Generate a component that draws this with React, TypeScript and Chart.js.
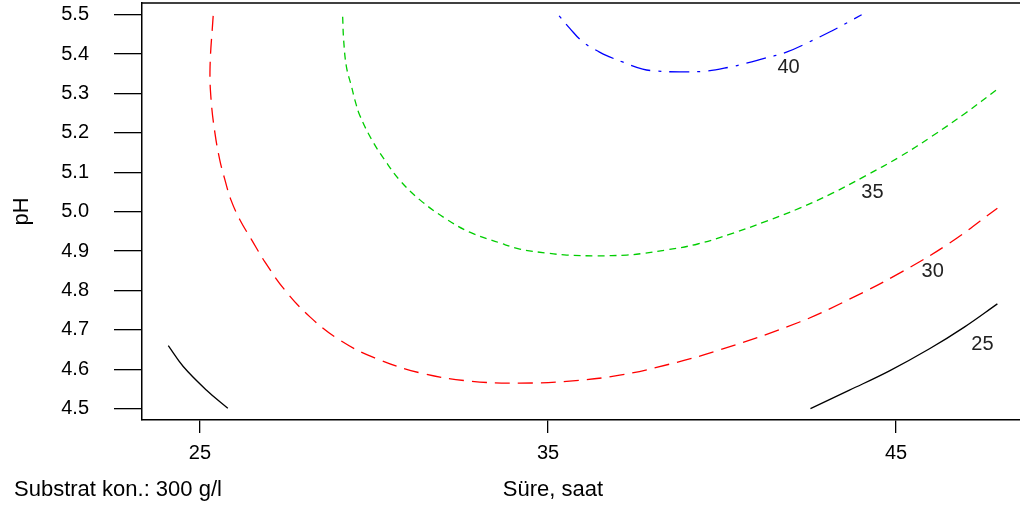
import React, { useEffect, useRef } from 'react';
import { Chart, registerables } from 'chart.js';

Chart.register(...registerables);

const FONT = "'Liberation Sans', Arial, sans-serif";

// Axis ticks
const xTicks = [25, 35, 45];
const yTicks = [4.5, 4.6, 4.7, 4.8, 4.9, 5.0, 5.1, 5.2, 5.3, 5.4, 5.5];
const xMin = 23.335;
const xMax = 48.56;
const yMin = 4.4713;
const yMax = 5.5297;

// Contour level 25 (two pieces)
const c25aHours = [24.09, 24.52, 25.19, 25.8];
const c25aPH = [4.66, 4.607, 4.547, 4.501];
const c25bHours = [42.54, 43.66, 44.81, 45.96, 46.96, 47.91];
const c25bPH = [4.5, 4.547, 4.596, 4.652, 4.707, 4.766];

// Contour level 30
const c30Hours = [25.38, 25.29, 25.32, 25.43, 25.57, 25.72, 25.89, 26.15, 26.49, 26.87, 27.44, 28.16, 29.02, 30.02, 31.32, 32.75, 34.19, 35.62, 37.06, 38.49, 39.93, 42.23, 43.66, 45.1, 46.53, 47.91];
const c30PH = [5.497, 5.367, 5.284, 5.2, 5.131, 5.08, 5.03, 4.979, 4.928, 4.872, 4.801, 4.733, 4.674, 4.629, 4.591, 4.57, 4.565, 4.57, 4.585, 4.613, 4.649, 4.72, 4.778, 4.844, 4.92, 5.009];

// Contour level 35
const c35Hours = [29.1, 29.13, 29.21, 29.36, 29.45, 29.59, 29.94, 30.31, 30.74, 31.32, 32.03, 32.75, 33.61, 34.19, 34.96, 35.54, 36.4, 37.26, 37.72, 38.41, 39.3, 40.3, 41.28, 42.23, 43.17, 44.12, 45.1, 46.04, 46.99, 47.91];
const c35PH = [5.495, 5.434, 5.367, 5.316, 5.284, 5.245, 5.182, 5.131, 5.08, 5.03, 4.984, 4.948, 4.921, 4.905, 4.895, 4.89, 4.888, 4.89, 4.894, 4.903, 4.918, 4.945, 4.976, 5.009, 5.047, 5.091, 5.139, 5.192, 5.25, 5.311];

// Contour level 40
const c40Hours = [35.32, 35.62, 36.0, 36.48, 36.77, 37.14, 37.72, 38.12, 38.78, 39.56, 40.22, 40.7, 41.16, 41.85, 42.51, 43.09, 43.58, 44.01];
const c40PH = [5.497, 5.466, 5.431, 5.405, 5.393, 5.38, 5.362, 5.357, 5.355, 5.357, 5.367, 5.377, 5.388, 5.405, 5.431, 5.456, 5.479, 5.5];

// Contour labels
const labelLevels = ['25', '30', '35', '40'];
const labelHours = [47.48, 46.05, 44.32, 41.91];
const labelPH = [4.662, 4.847, 5.05, 5.365];

const pts = (xs: number[], ys: number[]) => xs.map((x, i) => ({ x, y: ys[i] }));

const boxAndText = {
  id: 'boxAndText',
  afterDraw(chart: any) {
    const { ctx, chartArea, scales } = chart;
    ctx.save();
    // top border of plot box
    ctx.strokeStyle = '#000';
    ctx.lineWidth = 1.5;
    ctx.beginPath();
    ctx.moveTo(chartArea.left, chartArea.top);
    ctx.lineTo(chartArea.right, chartArea.top);
    ctx.stroke();

    // contour labels
    ctx.fillStyle = '#222';
    ctx.font = `20px ${FONT}`;
    ctx.textAlign = 'center';
    ctx.textBaseline = 'middle';
    labelLevels.forEach((t, i) => {
      ctx.fillText(t, scales.x.getPixelForValue(labelHours[i]), scales.y.getPixelForValue(labelPH[i]));
    });

    // bottom texts
    ctx.fillStyle = '#000';
    ctx.font = `22px ${FONT}`;
    ctx.textBaseline = 'alphabetic';
    ctx.textAlign = 'center';
    ctx.fillText('Süre, saat', 553, 496);
    ctx.textAlign = 'left';
    ctx.fillText('Substrat kon.: 300 g/l', 14, 496);
    ctx.restore();
  },
};

const lineDs = (data: any[], color: string, dash: number[]) => ({
  data,
  showLine: true,
  borderColor: color,
  backgroundColor: color,
  borderWidth: 1.3,
  borderDash: dash,
  pointRadius: 0,
  tension: 0.4,
  fill: false,
});

export default function App() {
  const ref = useRef<HTMLCanvasElement | null>(null);

  useEffect(() => {
    if (!ref.current) return;
    const chart = new Chart(ref.current, {
      type: 'scatter',
      data: {
        datasets: [
          lineDs(pts(c25aHours, c25aPH), '#000000', []),
          lineDs(pts(c25bHours, c25bPH), '#000000', []),
          lineDs(pts(c30Hours, c30PH), '#FF0000', [15, 8]),
          lineDs(pts(c35Hours, c35PH), '#00CD00', [7, 5]),
          lineDs(pts(c40Hours, c40PH), '#0000FF', [3, 8, 20, 8]),
        ] as any,
      },
      options: {
        animation: false,
        responsive: false,
        maintainAspectRatio: false,
        devicePixelRatio: 1,
        layout: { padding: { top: 3, left: 0, right: 0, bottom: 0 } },
        plugins: { legend: { display: false }, tooltip: { enabled: false } },
        scales: {
          x: {
            type: 'linear',
            position: 'bottom',
            min: xMin,
            max: xMax,
            afterFit: (s: any) => { s.height = 93; s.paddingLeft = 0; s.paddingRight = 0; },
            afterBuildTicks: (s: any) => { s.ticks = xTicks.map((v) => ({ value: v })); },
            ticks: {
              font: { family: FONT, size: 20 },
              color: '#000',
              padding: 8,
              maxRotation: 0,
              autoSkip: false,
              callback: (v: any) => String(v),
            },
            grid: { drawOnChartArea: false, drawTicks: true, tickLength: 13, color: '#000', lineWidth: 1.3 },
            border: { display: true, color: '#000', width: 1.5 },
          },
          y: {
            type: 'linear',
            position: 'left',
            min: yMin,
            max: yMax,
            afterFit: (s: any) => { s.width = 142; s.paddingTop = 0; s.paddingBottom = 0; },
            afterBuildTicks: (s: any) => { s.ticks = yTicks.map((v) => ({ value: v })); },
            ticks: {
              font: { family: FONT, size: 20 },
              color: '#000',
              padding: 25,
              autoSkip: false,
              callback: (v: any) => Number(v).toFixed(1),
            },
            grid: { drawOnChartArea: false, drawTicks: true, tickLength: 28, color: '#000', lineWidth: 1.3 },
            border: { display: true, color: '#000', width: 1.5 },
            title: {
              display: true,
              text: 'pH',
              color: '#000',
              font: { family: FONT, size: 22 },
              padding: { top: 9, bottom: 0 },
            },
          },
        },
      } as any,
      plugins: [boxAndText],
    });
    return () => chart.destroy();
  }, []);

  return (
    <div style={{ position: 'fixed', left: 0, top: 0, width: 1020, height: 513, background: '#fff' }}>
      <canvas ref={ref} width={1020} height={513} style={{ display: 'block' }} />
    </div>
  );
}
